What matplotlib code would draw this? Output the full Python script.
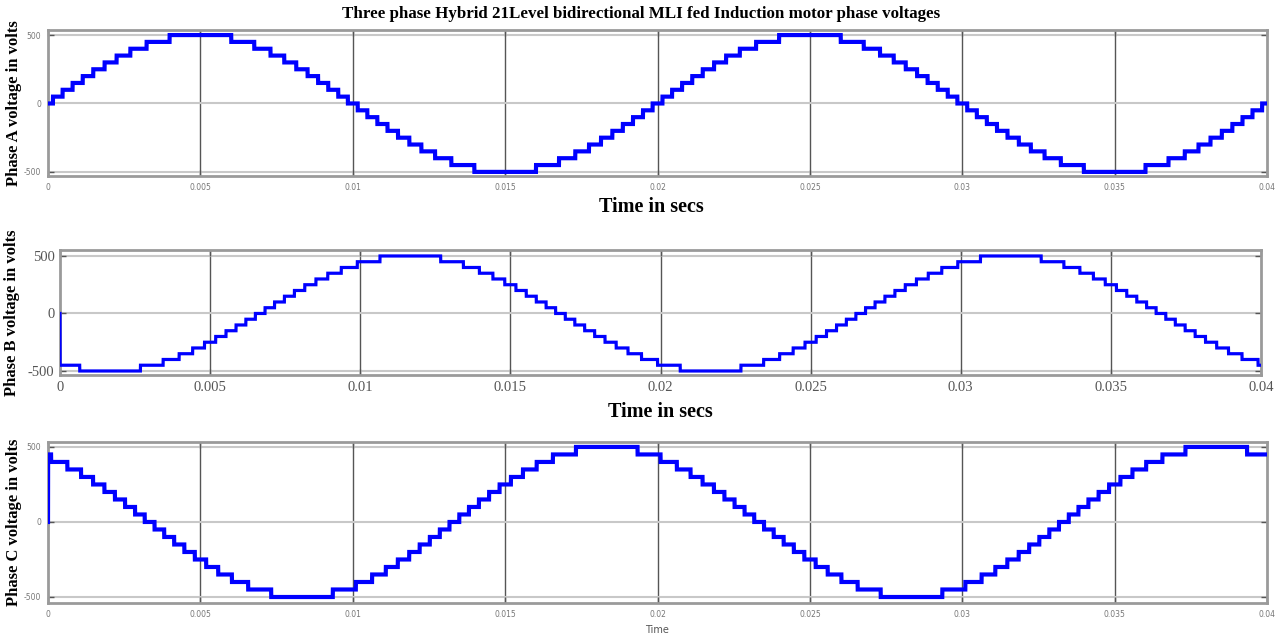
import numpy as np
import matplotlib
matplotlib.use("Agg")
import matplotlib.pyplot as plt

# ---- data ----
freq_hz = 50.0
step_volts = 50.0
# switching angles (deg) of the 10 up-steps in the first quarter cycle
switch_angles_deg = [2.9, 8.6, 14.5, 20.5, 26.7, 33.4, 40.5, 48.6, 58.2, 71.8]
phase_names = ["Phase A", "Phase B", "Phase C"]
phase_shift_deg = [0.0, -120.0, 120.0]
initial_values = [0.0, 0.0, 0.0]
t_end = 0.04
x_ticks = [0, 0.005, 0.01, 0.015, 0.02, 0.025, 0.03, 0.035, 0.04]
x_tick_labels = ["0", "0.005", "0.01", "0.015", "0.02", "0.025", "0.03", "0.035", "0.04"]
y_ticks = [-500, 0, 500]
y_tick_labels = ["-500", "0", "500"]

title = "Three phase Hybrid 21Level bidirectional MLI fed Induction motor phase voltages"


def staircase(t, shift):
    phi = (360.0 * freq_hz * t + shift) % 360.0
    sign = np.where(phi < 180.0, 1.0, -1.0)
    half = np.where(phi < 180.0, phi, phi - 180.0)
    folded = np.minimum(half, 180.0 - half)
    k = np.searchsorted(np.array(switch_angles_deg), folded, side="right")
    return sign * k * step_volts


W, H = 1283, 637
fig = plt.figure(figsize=(W / 100, H / 100), dpi=100)

# axes boxes in pixels: left, top, right, bottom
boxes = [(48, 30, 1267, 176), (60, 250, 1261, 375), (48, 442, 1267, 603)]
ylims = [(-530, 537), (-535, 552), (-540, 533)]
lws = [3.0, 2.3, 3.0]
label_x = [-0.021, -0.033, -0.021]
serif = "Liberation Serif"

t = np.linspace(0, t_end, 40001)
axes = []
for i, (l, tp, r, b) in enumerate(boxes):
    ax = fig.add_axes([l / W, 1 - b / H, (r - l) / W, (b - tp) / H])
    axes.append(ax)
    v = staircase(t, phase_shift_deg[i])
    v[0] = initial_values[i]
    ax.plot(t, v, color="#0000FF", lw=lws[i], solid_joinstyle="miter", zorder=3)
    ax.set_xlim(0, t_end)
    ax.set_ylim(*ylims[i])
    ax.set_xticks(x_ticks)
    ax.set_yticks(y_ticks)
    ax.set_yticklabels(y_tick_labels)
    ax.set_xticklabels(x_tick_labels)
    # grid
    for xt in x_ticks[1:-1]:
        ax.axvline(xt, color="#555555", lw=1.0, zorder=0)
    for yt in y_ticks:
        ax.axhline(yt, color="#c8c8c8", lw=1.5, zorder=0)
    for s in ax.spines.values():
        s.set_color("#9a9a9a")
        s.set_linewidth(2.0)
    ax.tick_params(direction="in", length=4, width=1, colors="#555555",
                   top=True, right=True)
    if i == 1:
        ax.tick_params(labelsize=10.5, pad=4, labelcolor="#555555")
        for lab in ax.get_xticklabels() + ax.get_yticklabels():
            lab.set_fontfamily(serif)
    else:
        ax.tick_params(labelsize=5.5, pad=5, labelcolor="#777777")
    ax.set_ylabel(phase_names[i] + " voltage in volts", fontfamily=serif,
                  fontweight="bold", fontsize=12)
    ax.yaxis.set_label_coords(label_x[i], 0.5)

fig.text(0.5, 1 - 14 / H, title, ha="center", va="center", fontfamily=serif,
         fontweight="bold", fontsize=12.2)
fig.text(651 / W, 1 - 207 / H, "Time in secs", ha="center", va="center",
         fontfamily=serif, fontweight="bold", fontsize=14.5)
fig.text(660 / W, 1 - 412 / H, "Time in secs", ha="center", va="center",
         fontfamily=serif, fontweight="bold", fontsize=14.5)
fig.text(657 / W, 1 - 630 / H, "Time", ha="center", va="center",
         fontsize=7, color="#555555")

fig.savefig("out.png", dpi=100)
